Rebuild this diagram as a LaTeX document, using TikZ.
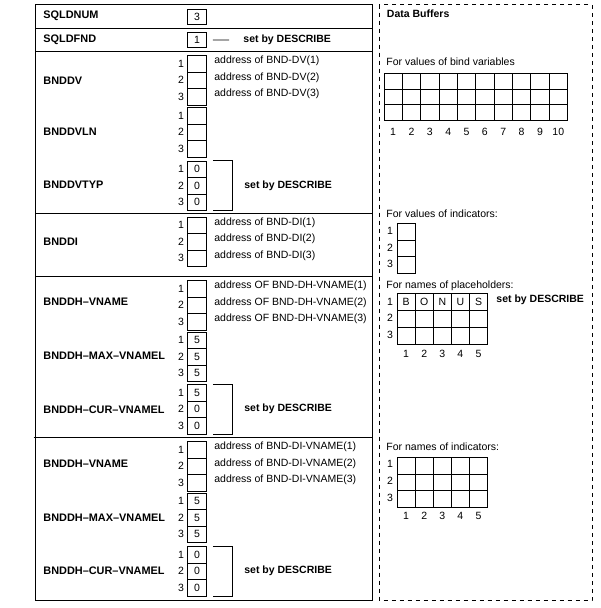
\documentclass[tikz,border=0pt]{standalone}
\usepackage{fontspec}
\setmainfont{Liberation Sans}
\newcommand\threecells[5]{%
  \node[cell] (#1a) at (187,#2) {#3};
  \node[cell] (#1b) at (187,#2+16.5) {#4};
  \node[cell] (#1c) at (187,#2+33) {#5};
  \node[idx] (#1na) at ([xshift=-2.5pt]#1a.west) {1};
  \node[idx] (#1nb) at ([xshift=-2.5pt]#1b.west) {2};
  \node[idx] (#1nc) at ([xshift=-2.5pt]#1c.west) {3};
}
\newcommand\setbracket[1]{%
  \draw ([xshift=6pt]#1a.north east) -| ([xshift=25.5pt]#1c.south east) -- ([xshift=6pt]#1c.south east);
  \node[note] (#1s) at ([xshift=37pt]#1b.east) {set by DESCRIBE};
}
\newcommand\addrs[4]{%
  \node[addr] (#1ta) at ([xshift=7pt,yshift=2.5pt]#1a.east) {#2};
  \node[addr] (#1tb) at ([xshift=7pt,yshift=2.5pt]#1b.east) {#3};
  \node[addr] (#1tc) at ([xshift=7pt,yshift=2.5pt]#1c.east) {#4};
}
\begin{document}
\begin{tikzpicture}[x=1pt,y=-1pt,line width=0.9pt,
  every node/.style={font=\fontsize{10.5}{12}\selectfont, inner sep=0pt},
  cell/.style={draw, minimum width=19pt, minimum height=16.5pt, anchor=north west},
  sq/.style={draw, minimum width=19pt, minimum height=15pt, anchor=north west},
  idx/.style={anchor=east},
  lab/.style={anchor=west, font=\fontsize{10.9}{12}\selectfont\bfseries},
  addr/.style={anchor=west},
  note/.style={anchor=west, font=\fontsize{10.5}{12}\selectfont\bfseries},
  txt/.style={anchor=west},
  dbox/.style={dash pattern=on 4pt off 4pt, line width=0.8pt}]
\useasboundingbox (0,0) rectangle (600,608);

% ---------- left panel ----------
\draw (35,4.5) rectangle (372.5,600);
\draw (35,28.5) -- (372.5,28.5);
\draw (35,51) -- (372.5,51);
\draw (35,213.3) -- (372.5,213.3);
\draw (35,276.8) -- (372.5,276.8);
\draw (33.5,437.3) -- (372.5,437.3);

\node[sq] (num) at (187,9) {3};
\node[lab] (lnum) at (43,16) {SQLDNUM};
\node[sq] (fnd) at (187,32) {1};
\node[lab] (lfnd) at (43,40) {SQLDFND};
\node[note] (fnds) at (243,40) {set by DESCRIBE};
\draw ([xshift=6pt]fnd.east) -- ([xshift=-14pt]fnds.west);

\threecells{dv}{55}{}{}{}
\node[lab] (ldv) at (43,81) {BNDDV};
\addrs{dv}{address of BND-DV(1)}{address of BND-DV(2)}{address of BND-DV(3)}

\threecells{dvln}{107}{}{}{}
\node[lab] (ldvln) at (43,131.5) {BNDDVLN};

\threecells{dvt}{160.5}{0}{0}{0}
\node[lab] (ldvt) at (43,184.5) {BNDDVTYP};
\setbracket{dvt}

\threecells{di}{216.5}{}{}{}
\node[lab] (ldi) at (43,242) {BNDDI};
\addrs{di}{address of BND-DI(1)}{address of BND-DI(2)}{address of BND-DI(3)}

\threecells{vna}{280}{}{}{}
\node[lab] (lvna) at (43,302) {BNDDH–VNAME};
\addrs{vna}{address OF BND-DH-VNAME(1)}{address OF BND-DH-VNAME(2)}{address OF BND-DH-VNAME(3)}

\threecells{mxa}{331.5}{5}{5}{5}
\node[lab] (lmxa) at (43,356) {BNDDH–MAX–VNAMEL};

\threecells{cua}{384}{5}{0}{0}
\node[lab] (lcua) at (43,409.5) {BNDDH–CUR–VNAMEL};
\setbracket{cua}

\threecells{vnb}{441}{}{}{}
\node[lab] (lvnb) at (43,463.5) {BNDDH–VNAME};
\addrs{vnb}{address of BND-DI-VNAME(1)}{address of BND-DI-VNAME(2)}{address of BND-DI-VNAME(3)}

\threecells{mxb}{492.5}{5}{5}{5}
\node[lab] (lmxb) at (43,518) {BNDDH–MAX–VNAMEL};

\threecells{cub}{546}{0}{0}{0}
\node[lab] (lcub) at (43,571) {BNDDH–CUR–VNAMEL};
\setbracket{cub}

% ---------- right panel ----------
\draw[dbox] (379,4.5) rectangle (592,600);
\node[note] (db) at (386.5,14) {Data Buffers};

% bind variables grid
\node[txt] (tbind) at (386,61.5) {For values of bind variables};
\foreach \k in {0,...,10} \draw (384+18.35*\k,73.3) -- (384+18.35*\k,120.3);
\foreach \r in {73.3,89,104.6,120.3} \draw (384,\r) -- (567.5,\r);
\foreach \k in {1,...,10} \node (bc\k) at (384+18.35*\k-9.2,131.5) {\k};

% indicators column
\node[txt] (tind) at (386,213.5) {For values of indicators:};
\draw (397,223.5) rectangle (415,273);
\draw (397,240) -- (415,240);
\draw (397,256.5) -- (415,256.5);
\node (ir1) at (390,231) {1};
\node (ir2) at (390,247.5) {2};
\node (ir3) at (390,263.5) {3};

% placeholders grid
\node[txt] (tph) at (386,286) {For names of placeholders:};
\foreach \k in {0,...,5} \draw (397+18.1*\k,293.5) -- (397+18.1*\k,344);
\foreach \r in {293.5,310.5,327.3,344} \draw (397,\r) -- (487.5,\r);
\foreach \k/\c in {1/B,2/O,3/N,4/U,5/S} \node (pl\k) at (397+18.1*\k-9,302) {\c};
\node (pr1) at (390,301.5) {1};
\node (pr2) at (390,318) {2};
\node (pr3) at (390,334.5) {3};
\foreach \k in {1,...,5} \node (pc\k) at (397+18.1*\k-9,354) {\k};
\node[note] (phs) at (496,300) {set by DESCRIBE};

% names of indicators grid
\node[txt] (tni) at (386,446.5) {For names of indicators:};
\foreach \k in {0,...,5} \draw (397+18.1*\k,457.3) -- (397+18.1*\k,507.3);
\foreach \r in {457.3,474,490.7,507.3} \draw (397,\r) -- (487.5,\r);
\node (nr1) at (390,464) {1};
\node (nr2) at (390,481) {2};
\node (nr3) at (390,497.5) {3};
\foreach \k in {1,...,5} \node (nc\k) at (397+18.1*\k-9,516) {\k};
\end{tikzpicture}
\end{document}
